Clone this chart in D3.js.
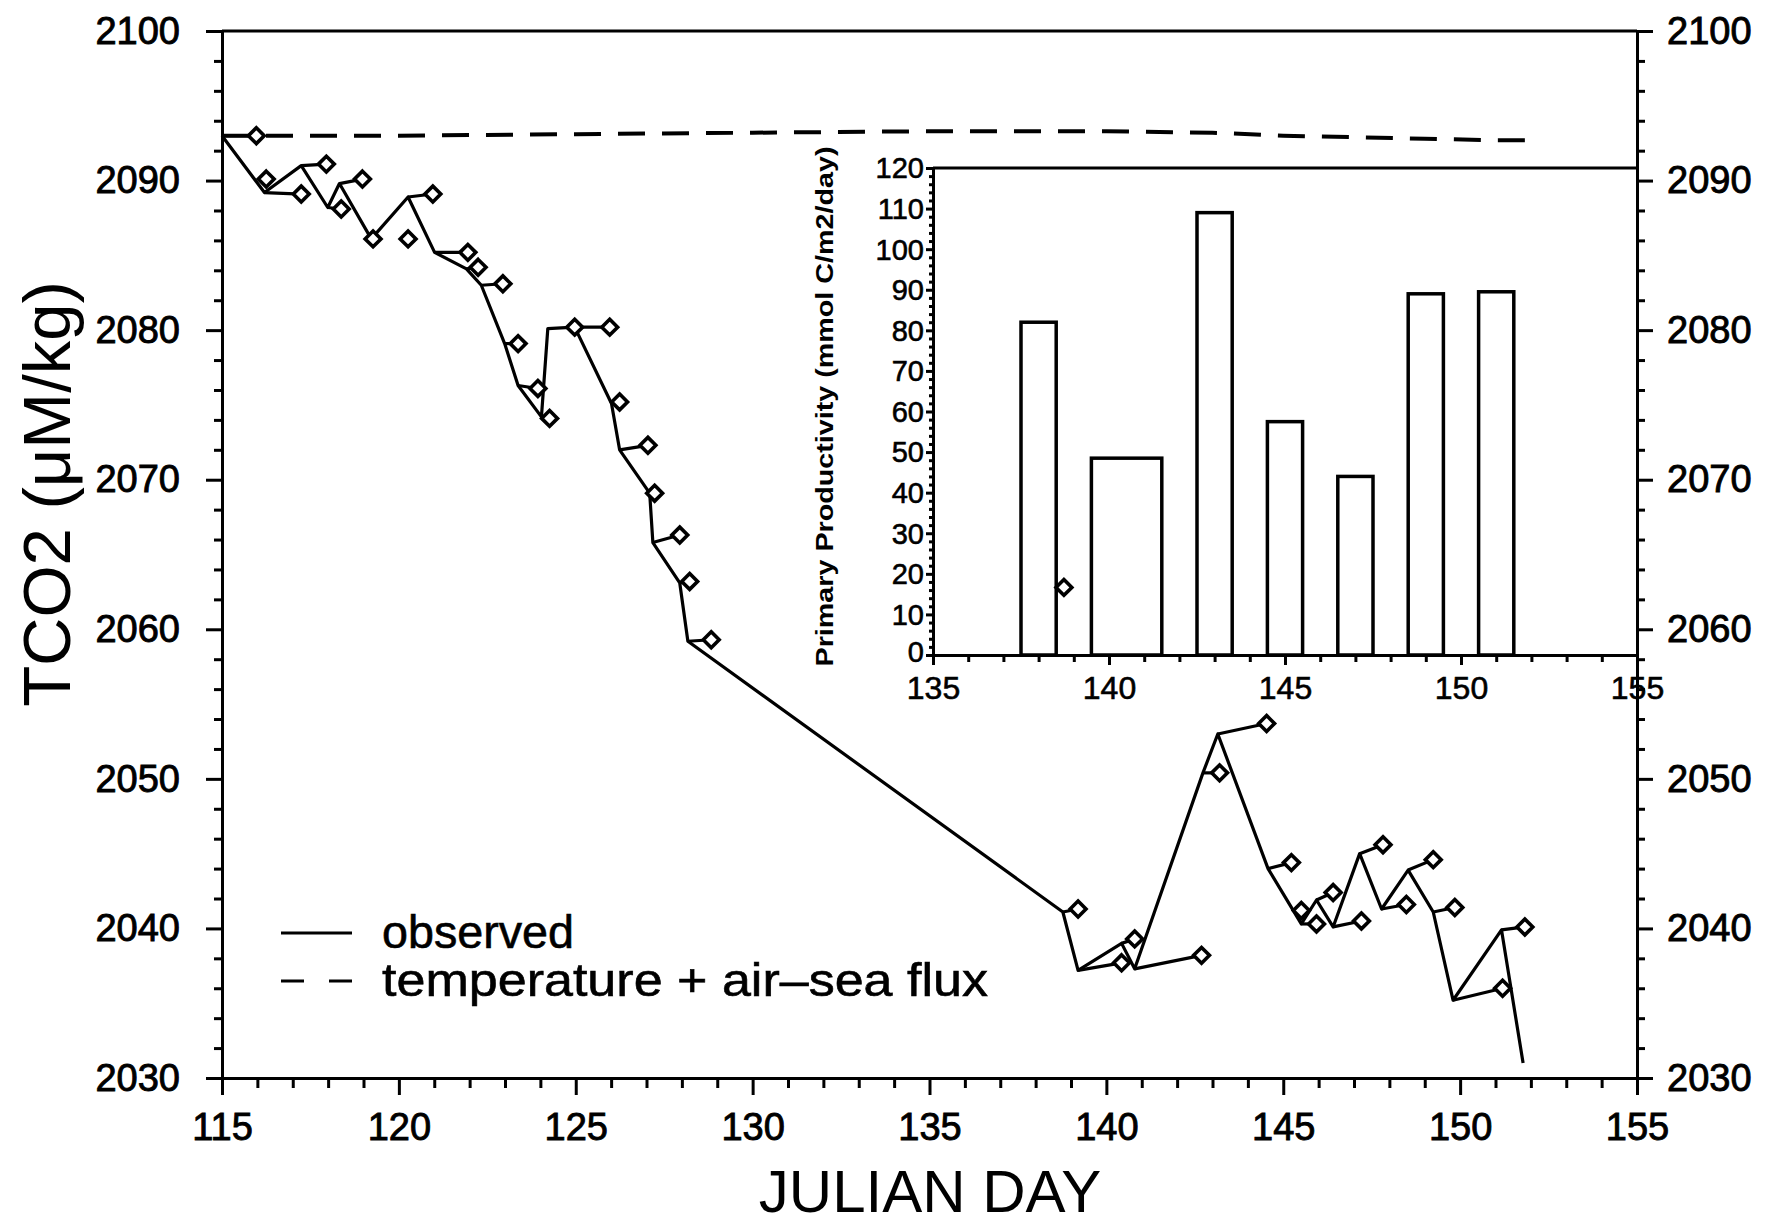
<!DOCTYPE html>
<html><head><meta charset="utf-8">
<script src="https://cdn.jsdelivr.net/npm/d3@7"></script>
<style>body{margin:0;background:#fff}svg{display:block}</style>
</head><body>
<svg id="c" width="1779" height="1225"></svg>
<script>
// ---------- data ----------
const obsDays = [115.0,116.2,117.24,117.99,118.32,119.22,120.26,121.01,121.91,122.33,122.99,123.37,124.03,124.21,124.97,126.01,126.24,127.09,127.18,127.94,128.17,138.77,139.2,140.43,140.8,142.73,143.15,144.57,145.51,145.94,146.41,147.16,147.78,148.53,149.24,149.8,151.17,151.78];
const obsVals = [2093.0,2089.2,2091.0,2088.2,2089.8,2086.1,2088.9,2085.2,2084.1,2083.0,2079.1,2076.3,2074.2,2080.1,2080.2,2075.1,2072.0,2069.1,2065.8,2063.1,2059.2,2041.1,2037.2,2039.0,2037.3,2050.4,2053.0,2044.0,2040.3,2041.9,2040.1,2045.0,2041.3,2043.9,2041.1,2035.2,2039.9,2031.0];
const diamondDays = [115.97,116.25,117.24,117.95,118.37,118.97,119.27,120.26,120.96,121.95,122.24,122.94,123.37,123.93,124.26,124.97,125.96,126.24,127.04,127.23,127.94,128.22,128.83,138.8,139.2,140.43,140.8,142.69,143.2,144.53,145.23,145.51,145.94,146.41,147.21,147.82,148.48,149.24,149.85,151.2,151.83];
const diamondVals = [2093.0,2090.1,2089.1,2091.1,2088.1,2090.1,2086.1,2086.1,2089.1,2085.2,2084.2,2083.1,2079.1,2076.1,2074.1,2080.2,2080.2,2075.2,2072.3,2069.1,2066.3,2063.2,2059.3,2062.8,2041.3,2037.7,2039.3,2038.2,2050.4,2053.7,2044.4,2041.2,2040.3,2042.4,2040.5,2045.6,2041.6,2044.6,2041.4,2036.0,2040.1];
// index of the observed point each diamond is joined to (-1 = not joined)
const diamondFrom = [0,-1,1,2,3,4,-1,-1,6,7,8,9,10,11,12,-1,14,15,16,17,18,19,20,-1,21,22,23,24,25,26,27,-1,28,29,30,31,32,33,34,35,36];
const fluxDays = [115,120,125,130,135,140,143,145,147,149,151,151.9];
const fluxVals = [2093.0,2093.0,2093.1,2093.2,2093.3,2093.3,2093.2,2093.0,2092.9,2092.8,2092.7,2092.7];
const ppStart = [137.5,139.5,142.5,144.5,146.5,148.5,150.5];
const ppEnd   = [138.5,141.5,143.5,145.5,147.5,149.5,151.5];
const ppVals  = [82,48.5,109,57.5,44,89,89.5];
const mainYTicks = [2030,2040,2050,2060,2070,2080,2090,2100];
const mainXTicks = [115,120,125,130,135,140,145,150,155];
const insetYTicks = [0,10,20,30,40,50,60,70,80,90,100,110,120];
const insetXTicks = [135,140,145,150,155];
const legendLabels = ["observed","temperature + air\u2013sea flux"];

// ---------- layout ----------
const svg = d3.select("#c");
const M = {l:222, r:1637, t:31, b:1078};
const I = {l:933, r:1637, t:168, b:655};
const FONT = "'Liberation Sans', Arial, sans-serif";
const x = d3.scaleLinear().domain([115,155]).range([M.l,M.r]);
const y = d3.scaleLinear().domain([2030,2100]).range([M.b,M.t]);
const xi = d3.scaleLinear().domain([135,155]).range([I.l,I.r]);
const yi = d3.scaleLinear().domain([0,120]).range([I.b,I.t]);

function styleAxis(g, fs, sw){
  g.selectAll("path.domain").attr("stroke","#000").attr("stroke-width",3);
  g.selectAll(".tick line").attr("stroke","#000").attr("stroke-width",3);
  g.selectAll(".tick text").attr("fill","#000").style("font-family",FONT).style("font-size",fs+"px")
    .style("stroke","#000").style("stroke-width",(sw||0)+"px");
}
const minorMainY = d3.range(2030,2100.1,2).filter(v=>v%10!==0);
const minorMainX = d3.range(115,155.1,1).filter(v=>v%5!==0);

// main axes: minor ticks
[[d3.axisLeft(y),M.l],[d3.axisRight(y),M.r]].forEach(([a,px])=>{
  const g = svg.append("g").attr("transform",`translate(${px},0)`)
    .call(a.tickValues(minorMainY).tickSize(8).tickSizeOuter(0).tickFormat(""));
  styleAxis(g,10); g.select("path.domain").remove();
});
{
  const g = svg.append("g").attr("transform",`translate(0,${M.b})`)
    .call(d3.axisBottom(x).tickValues(minorMainX).tickSize(10).tickSizeOuter(0).tickFormat(""));
  styleAxis(g,10); g.select("path.domain").remove();
}
// main axes: major
const gl = svg.append("g").attr("transform",`translate(${M.l},0)`)
  .call(d3.axisLeft(y).tickValues(mainYTicks).tickSize(16).tickSizeOuter(0).tickPadding(26).tickFormat(d3.format("d")));
styleAxis(gl,38,0.9);
const gr = svg.append("g").attr("transform",`translate(${M.r},0)`)
  .call(d3.axisRight(y).tickValues(mainYTicks).tickSize(16).tickSizeOuter(0).tickPadding(14).tickFormat(d3.format("d")));
styleAxis(gr,38,0.9);
const gb = svg.append("g").attr("transform",`translate(0,${M.b})`)
  .call(d3.axisBottom(x).tickValues(mainXTicks).tickSize(17).tickSizeOuter(0).tickPadding(18).tickFormat(d3.format("d")));
styleAxis(gb,38,0.9);
// top frame
svg.append("line").attr("x1",M.l).attr("x2",M.r).attr("y1",M.t).attr("y2",M.t).attr("stroke","#000").attr("stroke-width",3);

// titles
svg.append("text").attr("x",930).attr("y",1212).attr("text-anchor","middle")
  .style("font-family",FONT).style("font-size","60px").text("JULIAN DAY");
svg.append("text").attr("transform",`translate(70,494) rotate(-90)`).attr("text-anchor","middle")
  .style("font-family",FONT).style("font-size","67px").text("TCO2 (\u03bcM/kg)");

// ---------- inset ----------
const minorInsetX = d3.range(135,155.1,1).filter(v=>v%5!==0);
const minorInsetY = d3.range(0,120.1,2).filter(v=>v%10!==0);
{
  const g = svg.append("g").attr("transform",`translate(0,${I.b})`)
    .call(d3.axisBottom(xi).tickValues(minorInsetX).tickSize(7).tickSizeOuter(0).tickFormat(""));
  styleAxis(g,10); g.select("path.domain").remove();
  const g2 = svg.append("g").attr("transform",`translate(${I.l},0)`)
    .call(d3.axisLeft(yi).tickValues(minorInsetY).tickSize(4).tickSizeOuter(0).tickFormat(""));
  styleAxis(g2,10); g2.select("path.domain").remove();
}
const gib = svg.append("g").attr("transform",`translate(0,${I.b})`)
  .call(d3.axisBottom(xi).tickValues(insetXTicks).tickSize(10).tickSizeOuter(0).tickPadding(11).tickFormat(d3.format("d")));
styleAxis(gib,32,0.6);
const gil = svg.append("g").attr("transform",`translate(${I.l},0)`)
  .call(d3.axisLeft(yi).tickValues(insetYTicks).tickSize(7).tickSizeOuter(0).tickPadding(2).tickFormat(d3.format("d")));
styleAxis(gil,29,0.6);
gil.selectAll(".tick text").attr("dy",d=>d===0?"0.24em":"0.34em");
svg.append("line").attr("x1",I.l).attr("x2",I.r).attr("y1",I.t).attr("y2",I.t).attr("stroke","#000").attr("stroke-width",3);
svg.append("text").attr("transform",`translate(833,${(I.t+I.b)/2-5}) rotate(-90)`).attr("text-anchor","middle")
  .attr("textLength",520).attr("lengthAdjust","spacingAndGlyphs")
  .style("font-family",FONT).style("font-size","24px").style("font-weight","bold")
  .text("Primary Productivity (mmol C/m2/day)");
svg.append("g").selectAll("rect").data(ppVals).join("rect")
  .attr("x",(d,i)=>xi(ppStart[i])).attr("width",(d,i)=>xi(ppEnd[i])-xi(ppStart[i]))
  .attr("y",d=>yi(d)).attr("height",d=>yi(0)-yi(d))
  .attr("fill","#fff").attr("stroke","#000").attr("stroke-width",3.5);

// ---------- main series ----------
const line = d3.line().x(d=>x(d[0])).y(d=>y(d[1]));
svg.append("path").datum(fluxDays.map((d,i)=>[d,fluxVals[i]]))
  .attr("d",line).attr("fill","none").attr("stroke","#000").attr("stroke-width",4)
  .attr("stroke-dasharray","27,17");
svg.append("path").datum(obsDays.map((d,i)=>[d,obsVals[i]]))
  .attr("d",line).attr("fill","none").attr("stroke","#000").attr("stroke-width",3.2).attr("stroke-linejoin","round");
svg.append("g").selectAll("line").data(diamondDays.map((d,i)=>i).filter(i=>diamondFrom[i]>=0)).join("line")
  .attr("x1",i=>x(obsDays[diamondFrom[i]])).attr("y1",i=>y(obsVals[diamondFrom[i]]))
  .attr("x2",i=>x(diamondDays[i])).attr("y2",i=>y(diamondVals[i]))
  .attr("stroke","#000").attr("stroke-width",3.2);
const dia = d3.symbol().type(d3.symbolDiamond2).size(160);
svg.append("g").selectAll("path").data(diamondDays).join("path")
  .attr("transform",(d,i)=>`translate(${x(d)},${y(diamondVals[i])})`)
  .attr("d",dia).attr("fill","#fff").attr("stroke","#000").attr("stroke-width",3.6);

// ---------- legend ----------
const lg = svg.append("g");
lg.append("line").attr("x1",281).attr("x2",352).attr("y1",933).attr("y2",933).attr("stroke","#000").attr("stroke-width",3);
lg.append("line").attr("x1",281).attr("x2",352).attr("y1",981).attr("y2",981).attr("stroke","#000").attr("stroke-width",3).attr("stroke-dasharray","23,25");
lg.selectAll("text").data(legendLabels).join("text")
  .attr("x",382).attr("y",(d,i)=>948+i*48)
  .attr("textLength",(d,i)=>i===0?192:606).attr("lengthAdjust","spacingAndGlyphs")
  .style("font-family",FONT).style("font-size","46px").style("stroke","#000").style("stroke-width","0.6px").text(d=>d);
</script>
</body></html>
